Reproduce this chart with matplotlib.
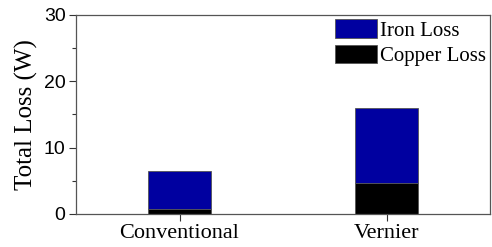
import numpy as np
import matplotlib
matplotlib.use("Agg")
import matplotlib.pyplot as plt
from matplotlib.ticker import MultipleLocator

categories = ["Conventional", "Vernier"]
copper_loss = [0.7, 4.7]
iron_loss = [5.8, 11.3]

fig = plt.figure(figsize=(4.92, 2.47), dpi=100)
ax = fig.add_axes([76 / 492, 1 - 214 / 247, 414 / 492, 199 / 247])

x = np.arange(len(categories))
ax.bar(x, copper_loss, width=0.3, color="black", edgecolor="#555555", linewidth=0.6, label="Copper Loss")
ax.bar(x, iron_loss, width=0.3, bottom=copper_loss, color="#0000a0", edgecolor="#555555",
       linewidth=0.6, label="Iron Loss")

ax.set_xlim(-0.5, 1.5)
ax.set_ylim(0, 30)
ax.set_xticks(x)
ax.set_xticklabels(categories, family="Liberation Serif", fontsize=16)
ax.yaxis.set_major_locator(MultipleLocator(10))
ax.yaxis.set_minor_locator(MultipleLocator(5))
for lab in ax.get_yticklabels():
    lab.set_family("Liberation Sans")
    lab.set_fontsize(14)
ax.tick_params(axis="both", direction="out", length=5, width=0.8, color="#333333", pad=2.5)
ax.tick_params(axis="y", which="minor", direction="out", length=3, width=0.8, color="#333333")
ax.set_ylabel("Total Loss (W)", family="Liberation Serif", fontsize=18, labelpad=4)
for s in ax.spines.values():
    s.set_color("#555555")
    s.set_linewidth(0.9)

h, l = ax.get_legend_handles_labels()
ax.legend(h[::-1], l[::-1], loc="upper right", frameon=False, prop={"family": "Liberation Serif", "size": 15},
          handlelength=2.0, handleheight=1.0, handletextpad=0.15, labelspacing=0.2,
          borderaxespad=0.05, borderpad=0.15)

plt.savefig("out.png", dpi=100)
